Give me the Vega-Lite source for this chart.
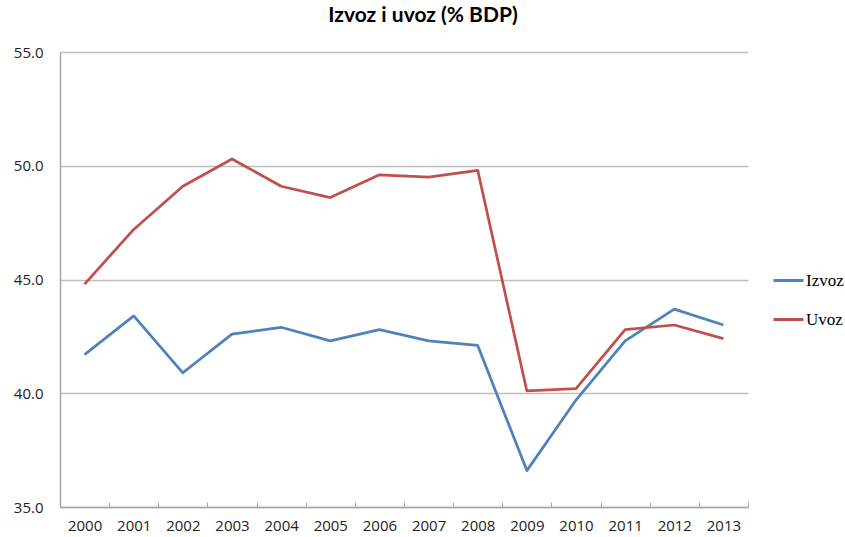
{
  "$schema": "https://vega.github.io/schema/vega-lite/v6.json",
  "width": 688,
  "height": 455,
  "autosize": {"type": "none"},
  "padding": {"left": 60, "top": 52, "right": 97, "bottom": 30},
  "background": "white",
  "title": {
    "text": "Izvoz i uvoz (% BDP)",
    "font": "Lato",
    "fontSize": 21,
    "fontWeight": "bold",
    "color": "#000000",
    "anchor": "middle",
    "offset": 19,
    "dx": 19
  },
  "data": {
    "values": [
      {"year": "2000", "series": "Izvoz", "value": 41.7},
      {"year": "2001", "series": "Izvoz", "value": 43.4},
      {"year": "2002", "series": "Izvoz", "value": 40.9},
      {"year": "2003", "series": "Izvoz", "value": 42.6},
      {"year": "2004", "series": "Izvoz", "value": 42.9},
      {"year": "2005", "series": "Izvoz", "value": 42.3},
      {"year": "2006", "series": "Izvoz", "value": 42.8},
      {"year": "2007", "series": "Izvoz", "value": 42.3},
      {"year": "2008", "series": "Izvoz", "value": 42.1},
      {"year": "2009", "series": "Izvoz", "value": 36.6},
      {"year": "2010", "series": "Izvoz", "value": 39.7},
      {"year": "2011", "series": "Izvoz", "value": 42.3},
      {"year": "2012", "series": "Izvoz", "value": 43.7},
      {"year": "2013", "series": "Izvoz", "value": 43.0},
      {"year": "2000", "series": "Uvoz", "value": 44.8},
      {"year": "2001", "series": "Uvoz", "value": 47.2},
      {"year": "2002", "series": "Uvoz", "value": 49.1},
      {"year": "2003", "series": "Uvoz", "value": 50.3},
      {"year": "2004", "series": "Uvoz", "value": 49.1},
      {"year": "2005", "series": "Uvoz", "value": 48.6},
      {"year": "2006", "series": "Uvoz", "value": 49.6},
      {"year": "2007", "series": "Uvoz", "value": 49.5},
      {"year": "2008", "series": "Uvoz", "value": 49.8},
      {"year": "2009", "series": "Uvoz", "value": 40.1},
      {"year": "2010", "series": "Uvoz", "value": 40.2},
      {"year": "2011", "series": "Uvoz", "value": 42.8},
      {"year": "2012", "series": "Uvoz", "value": 43.0},
      {"year": "2013", "series": "Uvoz", "value": 42.4}
    ]
  },
  "mark": {"type": "line", "strokeWidth": 2.75, "strokeJoin": "round"},
  "encoding": {
    "x": {
      "field": "year",
      "type": "ordinal",
      "scale": {"type": "band", "paddingInner": 0, "paddingOuter": 0},
      "axis": {
        "title": null,
        "labelAngle": 0,
        "labelFont": "Open Sans",
        "labelFontSize": 15,
        "labelColor": "#222222",
        "labelPadding": 16,
        "tickBand": "extent",
        "tickSize": -5,
        "tickColor": "#A6A6A6",
        "domainColor": "#A6A6A6",
        "domainWidth": 1.5,
        "grid": false
      }
    },
    "y": {
      "field": "value",
      "type": "quantitative",
      "scale": {"domain": [35, 55], "nice": false, "zero": false},
      "axis": {
        "title": null,
        "values": [35, 40, 45, 50, 55],
        "format": ".1f",
        "labelFont": "Open Sans",
        "labelFontSize": 15,
        "labelColor": "#222222",
        "labelPadding": 17,
        "ticks": false,
        "domainColor": "#A6A6A6",
        "domainWidth": 1.5,
        "grid": true,
        "gridColor": "#BEBEBE",
        "gridWidth": 1.5
      }
    },
    "color": {
      "field": "series",
      "type": "nominal",
      "scale": {"domain": ["Izvoz", "Uvoz"], "range": ["#4F81BD", "#C0504D"]},
      "legend": {
        "title": null,
        "orient": "none",
        "legendX": 712,
        "legendY": 212,
        "symbolType": "stroke",
        "symbolSize": 900,
        "symbolStrokeWidth": 3,
        "labelFont": "Liberation Serif",
        "labelFontSize": 17,
        "labelColor": "#000000",
        "labelOffset": 1,
        "rowPadding": 14
      }
    }
  },
  "config": {"view": {"stroke": null}}
}
